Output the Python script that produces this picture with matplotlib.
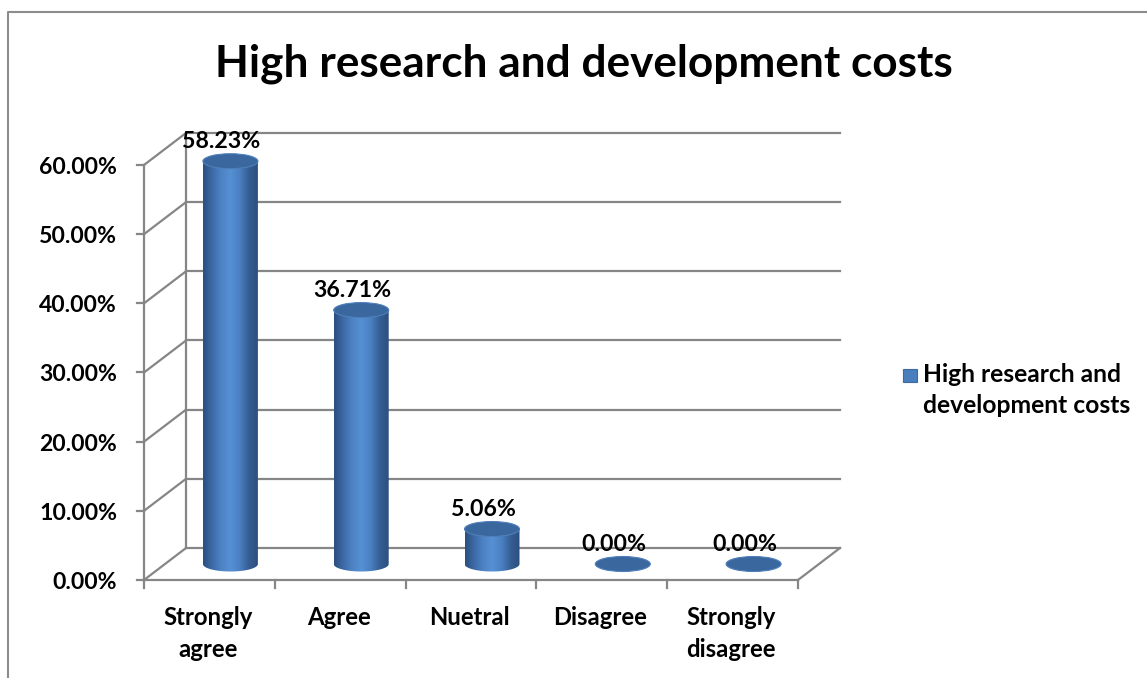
import numpy as np
import matplotlib.pyplot as plt
from matplotlib.patches import Ellipse, Polygon, Rectangle
from matplotlib.lines import Line2D
from matplotlib.colors import LinearSegmentedColormap

categories = ['Strongly\nagree', 'Agree', 'Nuetral', 'Disagree', 'Strongly\ndisagree']
values = [58.23, 36.71, 5.06, 0.00, 0.00]
y_ticks = [0, 10, 20, 30, 40, 50, 60]
title = 'High research and development costs'
series_name = 'High research and\ndevelopment costs'

plt.rcParams['font.family'] = ['Lato', 'DejaVu Sans']
plt.rcParams['font.weight'] = 'bold'

W, H = 1147, 678
fig = plt.figure(figsize=(W / 100, H / 100), dpi=100)
ax = fig.add_axes([0, 0, 1, 1])
renderer = fig.canvas.get_renderer()


def size_for(s, width_px, base=20):
    # font size at which s is width_px wide
    t = fig.text(0, 0, s, fontsize=base, fontweight='bold')
    w = t.get_window_extent(renderer).width
    t.remove()
    return base * width_px / w


fs_title = size_for(title, 738)
fs_tick = size_for('0.00%', 65)
fs_data = size_for('58.23%', 78)
fs_cat = size_for('Strongly', 89)
fs_leg = size_for('development costs', 207)

# pixel layout of the pseudo-3D frame
px_left, px_unit = 144, 130.8      # front x=-0.5 position, px per category
py_zero, py_unit = 580, 6.917      # front y=0 position (from top), px per %
xlim = (-0.5 - px_left / px_unit, -0.5 + (W - px_left) / px_unit)
ylim = (-(H - py_zero) / py_unit, py_zero / py_unit)
ax.axis('off')

dx, dy = 42 / px_unit, 32 / py_unit   # depth offset
n = len(categories)
x0, x1 = -0.5, n - 0.5
gc = '#868686'
lw = 1.6
line_gap = 32  # px between label lines

# back wall gridlines + left wall diagonals
for v in y_ticks:
    ax.plot([x0 + dx, x1 + dx], [v + dy, v + dy], color=gc, lw=lw, zorder=1)
    ax.plot([x0, x0 + dx], [v, v + dy], color=gc, lw=lw, zorder=1)
    ax.plot([x0 - 7 / px_unit, x0], [v, v], color=gc, lw=lw, zorder=1)
    ax.text(x0 - 27 / px_unit, v - 9 / py_unit, f'{v:.2f}%', ha='right',
            va='baseline', fontsize=fs_tick, fontweight='bold')
ax.plot([x0, x0], [0, y_ticks[-1]], color=gc, lw=lw, zorder=1)
ax.plot([x0 + dx, x0 + dx], [dy, y_ticks[-1] + dy], color=gc, lw=lw, zorder=1)
# floor
ax.plot([x0, x1], [0, 0], color=gc, lw=lw, zorder=1)
ax.plot([x1, x1 + dx], [0, dy], color=gc, lw=lw, zorder=1)
for i in range(n + 1):
    ax.plot([x0 + i, x0 + i], [0, -8 / py_unit], color=gc, lw=lw, zorder=1)

for i, c in enumerate(categories):
    for j, part in enumerate(c.split('\n')):
        ax.text(i - 1.5 / px_unit, -(45 + line_gap * j) / py_unit, part,
                ha='center', va='baseline', fontsize=fs_cat, fontweight='bold')

# cylinders
cmap = LinearSegmentedColormap.from_list(
    'cyl', ['#2b4e7e', '#3d6aa6', '#4d83c5', '#5690d4', '#4b80c2', '#355e94', '#2c4f7f'])
grad = np.linspace(0, 1, 256).reshape(1, -1)
bw = 55 / px_unit
eh = 15 / py_unit
t = np.linspace(np.pi, 2 * np.pi, 60)
for i, v in enumerate(values):
    cx = i + dx / 2
    yb = dy / 2
    yt = v + yb
    if v > 0:
        pts = [(cx - bw / 2, yt)]
        pts += list(zip(cx + bw / 2 * np.cos(t), yb + eh / 2 * np.sin(t)))
        pts += [(cx + bw / 2, yt)]
        body = Polygon(pts, closed=True, facecolor='none', edgecolor='none')
        ax.add_patch(body)
        im = ax.imshow(grad, cmap=cmap, aspect='auto', zorder=3,
                       extent=(cx - bw / 2, cx + bw / 2, yb - eh, yt))
        im.set_clip_path(body)
    top = Ellipse((cx, yt), bw, eh, facecolor='#3b679f', edgecolor='#4f7fba',
                  lw=0.8, zorder=4)
    ax.add_patch(top)
    ax.text(cx - 9 / px_unit, yt + 13 / py_unit, f'{v:.2f}%', ha='center',
            va='baseline', fontsize=fs_data, fontweight='bold', zorder=5)

ax.set_xlim(*xlim)
ax.set_ylim(*ylim)

# title
fig.text(584 / W, 1 - 77 / H, title, ha='center', va='baseline',
         fontsize=fs_title, fontweight='bold')

# legend
fig.patches.append(Rectangle((903 / W, 1 - 382 / H), 14 / W, 13 / H,
                             transform=fig.transFigure, facecolor='#4a7ebf',
                             edgecolor='#3b6aa3', lw=0.8))
for j, part in enumerate(series_name.split('\n')):
    fig.text(923 / W, 1 - (382 + 31 * j) / H, part, ha='left', va='baseline',
             fontsize=fs_leg, fontweight='bold')

# chart border
fig.lines.append(Line2D([8 / W, 8 / W, 1], [0, 1 - 12 / H, 1 - 12 / H],
                        transform=fig.transFigure, color='#8c8c8c', lw=1.5))

fig.savefig('out.png', dpi=100)
